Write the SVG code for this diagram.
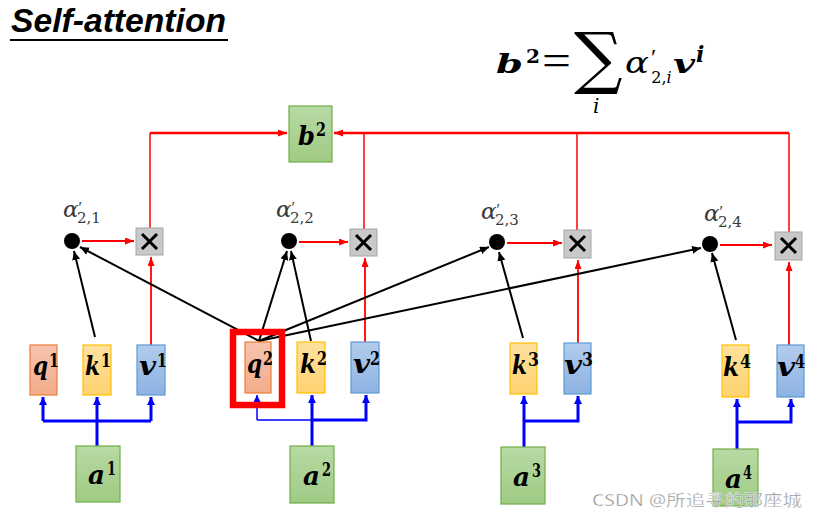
<svg xmlns="http://www.w3.org/2000/svg" width="819" height="517" viewBox="0 0 819 517">
<style>
.mb{font-family:"DejaVu Serif",serif;font-weight:bold;font-style:italic;fill:#000;font-size:26px}
.sup{font-family:"DejaVu Serif",serif;font-weight:bold;font-style:normal;font-size:19px}
.al{font-family:"DejaVu Serif",serif;font-style:italic;font-size:23px;fill:#3A3A3A}
.pr{font-family:"Liberation Serif",serif;font-style:normal;font-size:16px}
.sub{font-family:"DejaVu Serif",serif;font-style:normal;font-size:15px}
.red{stroke:#FF0000;fill:none}
.blk{stroke:#000;stroke-width:2;fill:none}
.blu{stroke:#0000FF;stroke-width:3;fill:none}
.blut{stroke:#0000FF;stroke-width:1.5;fill:none}
.q{fill:url(#gq);stroke:#ED7D31;stroke-width:1.2}
.k{fill:url(#gk);stroke:#FFC000;stroke-width:1.2}
.v{fill:url(#gv);stroke:#5B9BD5;stroke-width:1.2}
.g{fill:url(#gg);stroke:#70AD47;stroke-width:1.2}
.x{fill:#C9C9C9;stroke:#A5A5A5;stroke-width:1}
.xs{stroke:#000;stroke-width:3;fill:none}
</style>
<defs>
<linearGradient id="gq" x1="0" y1="0" x2="0" y2="1"><stop offset="0" stop-color="#F7C3AE"/><stop offset="1" stop-color="#F3AC8C"/></linearGradient>
<linearGradient id="gk" x1="0" y1="0" x2="0" y2="1"><stop offset="0" stop-color="#FFE19E"/><stop offset="1" stop-color="#FFD270"/></linearGradient>
<linearGradient id="gv" x1="0" y1="0" x2="0" y2="1"><stop offset="0" stop-color="#B2CCEC"/><stop offset="1" stop-color="#8DB2E2"/></linearGradient>
<linearGradient id="gg" x1="0" y1="0" x2="0" y2="1"><stop offset="0" stop-color="#B8D9A4"/><stop offset="1" stop-color="#9FCB84"/></linearGradient>
<marker id="ar" markerUnits="userSpaceOnUse" markerWidth="10" markerHeight="8" refX="9" refY="3.5" orient="auto"><path d="M0,0 L9,3.5 L0,7 z" fill="#FF0000"/></marker>
<marker id="ab" markerUnits="userSpaceOnUse" markerWidth="10" markerHeight="10" refX="9" refY="4" orient="auto"><path d="M0,0 L9,4 L0,8 z" fill="#000"/></marker>
<marker id="au" markerUnits="userSpaceOnUse" markerWidth="10" markerHeight="10" refX="8" refY="4" orient="auto"><path d="M0,0 L8,4 L0,8 z" fill="#0000FF"/></marker>
<marker id="aut" markerUnits="userSpaceOnUse" markerWidth="10" markerHeight="10" refX="7" refY="3.5" orient="auto"><path d="M0,0 L7,3.5 L0,7 z" fill="#0000FF"/></marker>
</defs>
<rect width="819" height="517" fill="#fff"/>

<g id="title">
<text x="11" y="32" font-family="'Liberation Sans',sans-serif" font-weight="bold" font-style="italic" font-size="33" textLength="215" lengthAdjust="spacingAndGlyphs">Self-attention</text>
<line x1="10" y1="40" x2="228" y2="40" stroke="#000" stroke-width="2.2"/>
</g>

<g id="formula">
<text x="496" y="73" class="mb" font-size="36" textLength="27" lengthAdjust="spacingAndGlyphs">b</text>
<text x="526" y="63" class="sup" font-size="23" textLength="14" lengthAdjust="spacingAndGlyphs">2</text>
<text x="542" y="75" font-family="'Liberation Serif',serif" font-size="44" textLength="29" lengthAdjust="spacingAndGlyphs">=</text>
<text x="574" y="81" font-family="'DejaVu Serif',serif" font-size="68">∑</text>
<text x="593" y="113" font-family="'DejaVu Serif',serif" font-style="italic" font-size="20">i</text>
<text x="625" y="73" font-family="'DejaVu Serif',serif" font-style="italic" font-size="29" textLength="24" lengthAdjust="spacingAndGlyphs">α</text>
<text x="651" y="65" font-family="'Liberation Serif',serif" font-size="24">′<tspan font-family="'DejaVu Serif',serif" font-size="16" dx="-5" dy="18">2,<tspan font-style="italic">i</tspan></tspan></text>
<text x="673" y="73" class="mb" font-size="30" textLength="22" lengthAdjust="spacingAndGlyphs">v</text>
<text x="696" y="62" font-family="'DejaVu Serif',serif" font-weight="bold" font-style="italic" font-size="22">i</text>
</g>

<g id="connectors">
<path class="red" stroke-width="1.5" d="M150,228 V133"/>
<path class="red" stroke-width="2.5" d="M150,133 H287" marker-end="url(#ar)"/>
<path class="red" stroke-width="2.5" d="M789,133 H334" marker-end="url(#ar)"/>
<path class="red" stroke-width="1.5" d="M364,229 V133 M577,230 V133 M789,232 V133"/>
<path class="red" stroke-width="2" d="M82,241 H134" marker-end="url(#ar)"/>
<path class="red" stroke-width="2" d="M299,242 H348" marker-end="url(#ar)"/>
<path class="red" stroke-width="2" d="M507,243 H562" marker-end="url(#ar)"/>
<path class="red" stroke-width="2" d="M720,245 H772" marker-end="url(#ar)"/>
<path class="red" stroke-width="1.8" d="M151,345 V257" marker-end="url(#ar)"/>
<path class="red" stroke-width="1.8" d="M365,342 V258" marker-end="url(#ar)"/>
<path class="red" stroke-width="1.8" d="M578,343 V260" marker-end="url(#ar)"/>
<path class="red" stroke-width="1.8" d="M789,345 V262" marker-end="url(#ar)"/>
<path class="blk" d="M95,337 L74,251" marker-end="url(#ab)"/>
<path class="blk" d="M259,341 L80,247" marker-end="url(#ab)"/>
<path class="blk" d="M259,341 L287,251" marker-end="url(#ab)"/>
<path class="blk" d="M311,341 L291,251" marker-end="url(#ab)"/>
<path class="blk" d="M259,341 L489,247" marker-end="url(#ab)"/>
<path class="blk" d="M259,341 L701,248" marker-end="url(#ab)"/>
<path class="blk" d="M523,338 L499,252" marker-end="url(#ab)"/>
<path class="blk" d="M736,340 L712,253" marker-end="url(#ab)"/>
<path class="blu" d="M97,446 V397" marker-end="url(#au)"/>
<path class="blu" d="M43,421 H151"/>
<path class="blu" d="M43,421 V397" marker-end="url(#au)"/>
<path class="blu" d="M151,421 V397" marker-end="url(#au)"/>
<path class="blut" d="M257,420 V395" marker-end="url(#aut)"/>
<path class="blut" d="M257,420 H312"/>
<path class="blu" d="M312,446 V395" marker-end="url(#au)"/>
<path class="blu" d="M312,420 H366 V395" marker-end="url(#au)"/>
<path class="blu" d="M524,447 V396" marker-end="url(#au)"/>
<path class="blu" d="M524,421 H578 V396" marker-end="url(#au)"/>
<path class="blu" d="M737,449 V399" marker-end="url(#au)"/>
<path class="blu" d="M737,422 H791 V399" marker-end="url(#au)"/>
</g>

<g id="b2"><rect class="g" x="289" y="106" width="43" height="56"/><text x="298" y="145" class="mb" textLength="17" lengthAdjust="spacingAndGlyphs">b</text><text x="316" y="136" class="sup" textLength="10" lengthAdjust="spacingAndGlyphs">2</text></g>

<g id="alpha1"><circle cx="72" cy="241" r="8"/><text x="63" y="217" class="al">α<tspan class="pr" dy="-4">′</tspan><tspan class="sub" dx="-5" dy="10">2,1</tspan></text></g>
<g id="alpha2"><circle cx="289" cy="241" r="8"/><text x="276" y="217" class="al">α<tspan class="pr" dy="-4">′</tspan><tspan class="sub" dx="-5" dy="10">2,2</tspan></text></g>
<g id="alpha3"><circle cx="497" cy="242" r="8"/><text x="481" y="219" class="al">α<tspan class="pr" dy="-4">′</tspan><tspan class="sub" dx="-5" dy="10">2,3</tspan></text></g>
<g id="alpha4"><circle cx="710" cy="244" r="8"/><text x="704" y="221" class="al">α<tspan class="pr" dy="-4">′</tspan><tspan class="sub" dx="-5" dy="10">2,4</tspan></text></g>

<g id="mul1"><rect class="x" x="136" y="228" width="27" height="27"/><path class="xs" d="M142,234 L157,249 M157,234 L142,249"/></g>
<g id="mul2"><rect class="x" x="350" y="229" width="27" height="27"/><path class="xs" d="M356,235 L371,250 M371,235 L356,250"/></g>
<g id="mul3"><rect class="x" x="564" y="230" width="27" height="28"/><path class="xs" d="M570,236 L585,251 M585,236 L570,251"/></g>
<g id="mul4"><rect class="x" x="775" y="232" width="27" height="28"/><path class="xs" d="M781,238 L796,253 M796,238 L781,253"/></g>

<g id="q1"><rect class="q" x="30" y="345" width="27" height="50"/><text x="33" y="375" class="mb" textLength="15" lengthAdjust="spacingAndGlyphs">q</text><text x="49" y="367" class="sup" textLength="10" lengthAdjust="spacingAndGlyphs">1</text></g>
<g id="k1"><rect class="k" x="83" y="345" width="28" height="50"/><text x="85" y="375" class="mb" textLength="15" lengthAdjust="spacingAndGlyphs">k</text><text x="101" y="367" class="sup" textLength="10" lengthAdjust="spacingAndGlyphs">1</text></g>
<g id="v1"><rect class="v" x="137" y="345" width="28" height="50"/><text x="139" y="375" class="mb" textLength="17" lengthAdjust="spacingAndGlyphs">v</text><text x="157" y="367" class="sup" textLength="10" lengthAdjust="spacingAndGlyphs">1</text></g>

<g id="q2"><rect x="233" y="332" width="49" height="73" fill="none" stroke="#FF0000" stroke-width="6.5"/><rect class="q" x="245" y="342" width="26" height="51"/><text x="247" y="373" class="mb" textLength="15" lengthAdjust="spacingAndGlyphs">q</text><text x="263" y="365" class="sup" textLength="10" lengthAdjust="spacingAndGlyphs">2</text></g>
<g id="k2"><rect class="k" x="297" y="342" width="28" height="51"/><text x="300" y="373" class="mb" textLength="16" lengthAdjust="spacingAndGlyphs">k</text><text x="317" y="365" class="sup" textLength="10" lengthAdjust="spacingAndGlyphs">2</text></g>
<g id="v2"><rect class="v" x="351" y="342" width="28" height="51"/><text x="353" y="373" class="mb" textLength="17" lengthAdjust="spacingAndGlyphs">v</text><text x="370" y="365" class="sup" textLength="10" lengthAdjust="spacingAndGlyphs">2</text></g>

<g id="k3"><rect class="k" x="510" y="343" width="27" height="51"/><text x="512" y="374" class="mb" textLength="15" lengthAdjust="spacingAndGlyphs">k</text><text x="528" y="366" class="sup" textLength="11" lengthAdjust="spacingAndGlyphs">3</text></g>
<g id="v3"><rect class="v" x="564" y="343" width="27" height="51"/><text x="564" y="374" class="mb" textLength="18" lengthAdjust="spacingAndGlyphs">v</text><text x="582" y="366" class="sup" textLength="11" lengthAdjust="spacingAndGlyphs">3</text></g>

<g id="k4"><rect class="k" x="722" y="345" width="27" height="52"/><text x="723" y="376" class="mb" textLength="16" lengthAdjust="spacingAndGlyphs">k</text><text x="740" y="368" class="sup" textLength="11" lengthAdjust="spacingAndGlyphs">4</text></g>
<g id="v4"><rect class="v" x="777" y="345" width="27" height="52"/><text x="777" y="376" class="mb" textLength="18" lengthAdjust="spacingAndGlyphs">v</text><text x="795" y="368" class="sup" textLength="10" lengthAdjust="spacingAndGlyphs">4</text></g>

<g id="a1"><rect class="g" x="76" y="446" width="44" height="56"/><text x="88" y="484" class="mb" textLength="17" lengthAdjust="spacingAndGlyphs">a</text><text x="107" y="475" class="sup" textLength="9" lengthAdjust="spacingAndGlyphs">1</text></g>
<g id="a2"><rect class="g" x="290" y="446" width="44" height="57"/><text x="303" y="485" class="mb" textLength="17" lengthAdjust="spacingAndGlyphs">a</text><text x="322" y="476" class="sup" textLength="9" lengthAdjust="spacingAndGlyphs">2</text></g>
<g id="a3"><rect class="g" x="501" y="447" width="44" height="57"/><text x="513" y="486" class="mb" textLength="17" lengthAdjust="spacingAndGlyphs">a</text><text x="532" y="477" class="sup" textLength="9" lengthAdjust="spacingAndGlyphs">3</text></g>
<g id="a4"><rect class="g" x="713" y="449" width="45" height="57"/><text x="725" y="488" class="mb" textLength="17" lengthAdjust="spacingAndGlyphs">a</text><text x="743" y="479" class="sup" textLength="9" lengthAdjust="spacingAndGlyphs">4</text></g>

<g id="watermark"><text x="592" y="506" font-family="'Noto Sans','Noto Sans CJK SC',sans-serif" font-size="16" fill="#8C8C8C" stroke="#fff" stroke-width="0.4" textLength="210" lengthAdjust="spacingAndGlyphs">CSDN @所追寻的那座城</text></g>
</svg>
